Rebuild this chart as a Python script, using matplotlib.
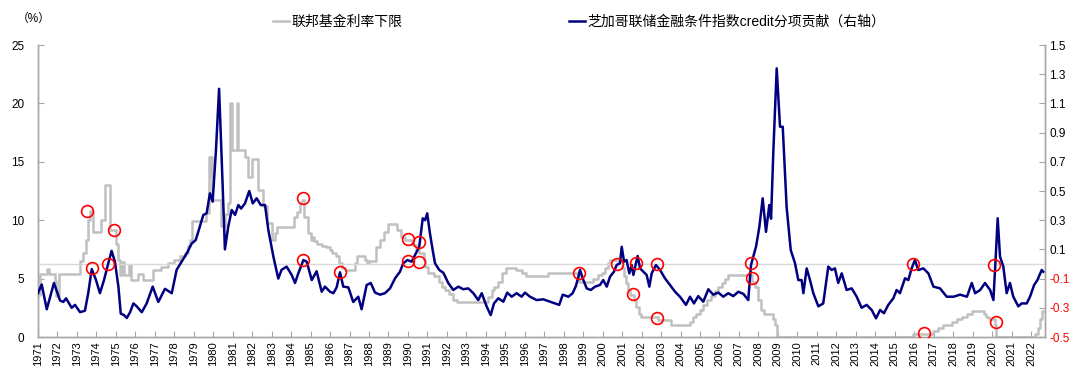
import matplotlib
matplotlib.use('Agg')
import matplotlib.pyplot as plt
import numpy as np

plt.rcParams['font.family'] = ['Liberation Sans', 'Noto Sans CJK SC', 'DejaVu Sans']
plt.rcParams['axes.unicode_minus'] = False

# 联邦基金利率下限 (%), step levels: start year -> value
ffr_year = [1971.00, 1971.08, 1971.45, 1971.55, 1971.85, 1971.95, 1972.08, 1973.15, 1973.30, 1973.45,
            1973.58, 1973.68, 1973.80, 1974.25, 1974.45, 1974.68, 1975.00, 1975.10, 1975.20, 1975.30,
            1975.42, 1975.65, 1975.80, 1976.15, 1976.40, 1976.90, 1977.30, 1977.70, 1978.00, 1978.30,
            1978.55, 1978.70, 1978.80, 1978.90, 1979.65, 1979.78, 1979.84, 1979.88, 1979.93, 1980.40,
            1980.60, 1980.75, 1980.85, 1980.95, 1981.20, 1981.27, 1981.65, 1981.80, 1981.97, 1982.31,
            1982.54, 1982.74, 1983.00, 1983.17, 1983.26, 1984.15, 1984.30, 1984.45, 1984.55, 1984.68,
            1984.85, 1985.00, 1985.10, 1985.20, 1985.35, 1985.60, 1985.80, 1986.00, 1986.10, 1986.30,
            1986.45, 1986.60, 1986.75, 1987.30, 1987.40, 1987.80, 1987.90, 1988.00, 1988.35, 1988.55,
            1988.75, 1989.00, 1989.45, 1989.65, 1989.85, 1990.20, 1990.40, 1990.55, 1990.80, 1990.90,
            1991.05, 1991.35, 1991.60, 1991.75, 1991.90, 1992.10, 1992.30, 1992.50, 1994.12, 1994.30,
            1994.40, 1994.65, 1994.85, 1995.05, 1995.55, 1995.85, 1996.05, 1997.20, 1998.80, 1999.50,
            1999.75, 1999.95, 2000.10, 2000.30, 2000.40, 2001.00, 2001.10, 2001.20, 2001.30, 2001.40,
            2001.60, 2001.72, 2001.85, 2001.95, 2002.85, 2003.50, 2004.50, 2004.65, 2004.80, 2005.00,
            2005.15, 2005.35, 2005.55, 2005.75, 2005.95, 2006.15, 2006.30, 2006.45, 2007.65, 2007.82,
            2008.00, 2008.15, 2008.30, 2008.77, 2008.83, 2008.95, 2015.96, 2016.96, 2017.20, 2017.46,
            2017.96, 2018.22, 2018.46, 2018.73, 2018.97, 2019.58, 2019.71, 2019.83, 2020.17, 2020.20,
            2022.21, 2022.34, 2022.46, 2022.57, 2022.63]
ffr_val = [3.6, 5.4, 5.8, 5.4, 4.8, 3.5, 5.4, 6.5, 7.2, 8.3,
           10.0, 10.8, 9.0, 10.0, 13.0, 9.2, 8.0, 6.6, 5.3, 6.4,
           5.3, 6.2, 4.9, 5.4, 4.9, 5.7, 6.0, 6.3, 6.6, 6.9,
           7.2, 7.8, 8.3, 9.9, 10.6, 15.4, 13.8, 15.4, 11.7, 9.5,
           10.5, 11.5, 20.0, 16.0, 20.0, 16.0, 15.4, 13.7, 15.2, 12.6,
           11.2, 9.8, 8.3, 8.9, 9.4, 10.3, 10.7, 11.5, 11.7, 10.3,
           8.9, 8.3, 8.6, 8.2, 8.0, 7.8, 7.7, 7.45, 7.2, 6.9,
           6.3, 5.9, 5.7, 6.3, 6.9, 6.6, 6.3, 6.5, 7.7, 8.3,
           9.0, 9.7, 9.2, 8.6, 8.3, 7.9, 7.45, 7.2, 6.6, 6.0,
           5.45, 5.2, 4.7, 4.3, 4.0, 3.7, 3.2, 3.0, 3.45, 4.0,
           4.3, 4.7, 5.45, 5.9, 5.7, 5.5, 5.2, 5.45, 4.7, 5.0,
           5.3, 5.5, 5.9, 6.3, 6.6, 5.9, 5.2, 4.6, 4.0, 3.6,
           3.2, 2.6, 2.0, 1.75, 1.45, 1.0, 1.3, 1.75, 2.0, 2.3,
           2.7, 3.2, 3.5, 3.9, 4.3, 4.6, 5.0, 5.3, 4.7, 4.3,
           3.2, 2.3, 2.0, 1.5, 1.0, 0.0, 0.25, 0.5, 0.75, 1.0,
           1.25, 1.5, 1.75, 2.0, 2.25, 2.0, 1.75, 1.5, 1.0, 0.0,
           0.25, 0.75, 1.5, 2.25, 2.25]

# 芝加哥联储金融条件指数credit分项贡献 (right axis)
nfci_year = [1971.00, 1971.19, 1971.45, 1971.82, 1972.13, 1972.30, 1972.44, 1972.73, 1972.90, 1973.16,
             1973.41, 1973.58, 1973.76, 1973.98, 1974.18, 1974.39, 1974.61, 1974.78, 1974.95, 1975.13,
             1975.25, 1975.42, 1975.56, 1975.73, 1975.90, 1976.07, 1976.33, 1976.58, 1976.89, 1977.18,
             1977.52, 1977.87, 1978.12, 1978.38, 1978.64, 1978.89, 1979.10, 1979.23, 1979.49, 1979.66,
             1979.83, 1979.97, 1980.14, 1980.30, 1980.43, 1980.60, 1980.77, 1980.95, 1981.12, 1981.29,
             1981.43, 1981.63, 1981.85, 1982.03, 1982.23, 1982.44, 1982.66, 1982.83, 1983.09, 1983.34,
             1983.51, 1983.77, 1984.03, 1984.20, 1984.37, 1984.63, 1984.80, 1985.06, 1985.31, 1985.57,
             1985.74, 1986.00, 1986.17, 1986.34, 1986.51, 1986.68, 1986.94, 1987.19, 1987.45, 1987.62,
             1987.88, 1988.09, 1988.31, 1988.57, 1988.82, 1989.08, 1989.34, 1989.59, 1989.76, 1989.97,
             1990.19, 1990.41, 1990.58, 1990.76, 1990.88, 1990.99, 1991.13, 1991.27, 1991.39, 1991.61,
             1991.82, 1992.07, 1992.33, 1992.59, 1992.84, 1993.10, 1993.36, 1993.61, 1993.79, 1994.04,
             1994.25, 1994.42, 1994.64, 1994.90, 1995.10, 1995.33, 1995.58, 1995.84, 1996.01, 1996.27,
             1996.61, 1996.95, 1997.30, 1997.55, 1997.77, 1997.95, 1998.24, 1998.46, 1998.63, 1998.84,
             1999.01, 1999.18, 1999.39, 1999.61, 1999.86, 2000.03, 2000.21, 2000.38, 2000.58, 2000.72,
             2000.89, 2000.98, 2001.10, 2001.23, 2001.37, 2001.49, 2001.58, 2001.71, 2001.80, 2001.92,
             2002.09, 2002.26, 2002.40, 2002.52, 2002.74, 2002.95, 2003.20, 2003.46, 2003.72, 2003.97,
             2004.28, 2004.49, 2004.69, 2004.91, 2005.17, 2005.43, 2005.68, 2005.94, 2006.20, 2006.45,
             2006.71, 2006.97, 2007.23, 2007.48, 2007.62, 2007.88, 2008.05, 2008.22, 2008.39, 2008.56,
             2008.65, 2008.77, 2008.94, 2009.11, 2009.25, 2009.45, 2009.66, 2009.88, 2010.05, 2010.22,
             2010.31, 2010.48, 2010.65, 2010.82, 2011.08, 2011.33, 2011.59, 2011.76, 2011.93, 2012.10,
             2012.28, 2012.53, 2012.79, 2013.05, 2013.30, 2013.56, 2013.82, 2014.04, 2014.25, 2014.45,
             2014.67, 2014.93, 2015.10, 2015.27, 2015.53, 2015.70, 2015.87, 2016.04, 2016.21, 2016.47,
             2016.73, 2016.99, 2017.33, 2017.67, 2018.02, 2018.36, 2018.71, 2018.96, 2019.13, 2019.39,
             2019.64, 2019.90, 2020.07, 2020.19, 2020.29, 2020.41, 2020.58, 2020.75, 2020.92, 2021.09,
             2021.35, 2021.52, 2021.78, 2021.95, 2022.16, 2022.33, 2022.55, 2022.63]
nfci_val = [-0.20, -0.14, -0.31, -0.13, -0.25, -0.26, -0.235, -0.30, -0.28, -0.33,
            -0.32, -0.20, -0.035, -0.11, -0.20, -0.11, 0.005, 0.09, 0.016, -0.155,
            -0.34, -0.35, -0.37, -0.33, -0.27, -0.29, -0.33, -0.27, -0.155, -0.26,
            -0.17, -0.20, -0.04, 0.016, 0.073, 0.14, 0.164, 0.22, 0.336, 0.347,
            0.484, 0.427, 0.78, 1.20, 0.735, 0.10, 0.255, 0.37, 0.336, 0.404,
            0.38, 0.415, 0.50, 0.415, 0.45, 0.404, 0.404, 0.233, 0.05, -0.10,
            -0.04, -0.018, -0.075, -0.13, -0.064, 0.027, 0.016, -0.11, -0.05, -0.19,
            -0.155, -0.19, -0.20, -0.16, -0.057, -0.155, -0.16, -0.26, -0.224, -0.31,
            -0.144, -0.13, -0.196, -0.21, -0.20, -0.167, -0.098, -0.053, 0.005, 0.027,
            0.016, 0.073, 0.118, 0.313, 0.30, 0.347, 0.21, 0.096, 0.005, -0.041,
            -0.06, -0.13, -0.178, -0.155, -0.173, -0.167, -0.20, -0.247, -0.20, -0.29,
            -0.35, -0.27, -0.235, -0.258, -0.196, -0.224, -0.20, -0.224, -0.196, -0.224,
            -0.247, -0.242, -0.258, -0.27, -0.28, -0.21, -0.224, -0.20, -0.15, -0.041,
            -0.11, -0.167, -0.178, -0.155, -0.144, -0.11, -0.155, -0.087, -0.053, -0.007,
            0.005, 0.118, 0.016, 0.027, -0.064, -0.007, -0.075, 0.005, 0.055, -0.03,
            -0.053, -0.075, -0.155, -0.064, -0.007, -0.041, -0.098, -0.144, -0.19, -0.224,
            -0.28, -0.224, -0.27, -0.22, -0.258, -0.173, -0.21, -0.196, -0.224, -0.20,
            -0.22, -0.19, -0.205, -0.247, -0.007, 0.12, 0.255, 0.45, 0.22, 0.404,
            0.31, 0.78, 1.34, 0.94, 0.94, 0.39, 0.096, 0.005, -0.11, -0.11,
            -0.20, -0.03, -0.11, -0.20, -0.29, -0.27, -0.018, -0.041, -0.03, -0.13,
            -0.064, -0.178, -0.167, -0.224, -0.30, -0.28, -0.315, -0.372, -0.315, -0.337,
            -0.28, -0.235, -0.178, -0.20, -0.098, -0.11, -0.03, 0.027, -0.041, -0.03,
            -0.064, -0.155, -0.167, -0.224, -0.224, -0.21, -0.224, -0.13, -0.20, -0.178,
            -0.13, -0.178, -0.247, 0.05, 0.313, 0.05, -0.018, -0.20, -0.13, -0.224,
            -0.29, -0.27, -0.27, -0.224, -0.144, -0.11, -0.041, -0.053]

# red circle marks
mark_ffr_year = [1973.53, 1974.90, 1984.63, 1989.99, 1990.59, 2001.54, 2002.78, 2007.65, 2016.50, 2020.20]
mark_ffr_val = [10.8, 9.13, 11.87, 8.4, 8.1, 3.65, 1.6, 5.08, 0.32, 1.31]
mark_nfci_year = [1973.76, 1974.61, 1984.63, 1986.51, 1989.99, 1990.59, 1998.80, 2000.72, 2001.71,
                  2002.78, 2007.60, 2015.96, 2020.12]
mark_nfci_val = [-0.03, 0.0, 0.027, -0.057, 0.02, 0.012, -0.06, 0.0, 0.005, 0.0, 0.005, 0.0, -0.01]

years = list(range(1971, 2023))
left_ticks = [0, 5, 10, 15, 20, 25]
right_ticks = [-0.5, -0.3, -0.1, 0.1, 0.3, 0.5, 0.7, 0.9, 1.1, 1.3, 1.5]

fig = plt.figure(figsize=(10.8, 3.77), dpi=100)
ax = fig.add_axes([38 / 1080, 40 / 377, 1007 / 1080, 292 / 377])
ax2 = ax.twinx()

gray_c = '#c0c0c0'
blue_c = '#000080'
spine_c = '#a6a6a6'

l1, = ax.plot(ffr_year, ffr_val, drawstyle='steps-post', color=gray_c, lw=1.8, label='联邦基金利率下限')
ax2.axhline(0, color='#d9d9d9', lw=1.0, zorder=1)
l2, = ax2.plot(nfci_year, nfci_val, color=blue_c, lw=1.8, zorder=3,
               label='芝加哥联储金融条件指数credit分项贡献（右轴）')
ax2.plot(mark_ffr_year, mark_ffr_val, transform=ax.transData, ls='none', marker='o',
         mfc='none', mec='#ff0000', ms=8.5, mew=1.2, zorder=5)
ax2.plot(mark_nfci_year, mark_nfci_val, ls='none', marker='o',
         mfc='none', mec='#ff0000', ms=8.5, mew=1.2, zorder=5)

ax.set_xlim(1971, 2022.72)
ax.set_ylim(0, 25)
ax2.set_ylim(-0.5, 1.5)

ax.set_xticks(years)
ax.set_xticklabels([str(y) for y in years], rotation=90, fontsize=8)
ax.set_yticks(left_ticks)
ax.set_yticklabels([str(v) for v in left_ticks], fontsize=8.5)
ax2.set_yticks(right_ticks)
ax2.set_yticklabels([f'{v:.1f}' for v in right_ticks], fontsize=8.5)
for lab, v in zip(ax2.get_yticklabels(), right_ticks):
    if v < 0:
        lab.set_color('#ff0000')

ax.tick_params(axis='x', direction='in', length=4, color=spine_c, pad=3)
ax.tick_params(axis='y', direction='in', length=4, color=spine_c, pad=10)
ax2.tick_params(axis='y', direction='in', length=4, color=spine_c, pad=3)

for a in (ax, ax2):
    a.spines['top'].set_visible(False)
    for s in ('left', 'right', 'bottom'):
        a.spines[s].set_color(spine_c)
        a.spines[s].set_linewidth(1.0)

fig.text(17 / 1080, 1 - 19 / 377, '（%）', fontsize=8.5, va='center', ha='left')
fig.legend([l1, l2], [l1.get_label(), l2.get_label()], loc='center', bbox_to_anchor=(0.536, 0.942),
           ncol=2, frameon=False, fontsize=10, handlelength=1.15, handletextpad=0.15,
           columnspacing=12)

fig.savefig('out.png', dpi=100)
